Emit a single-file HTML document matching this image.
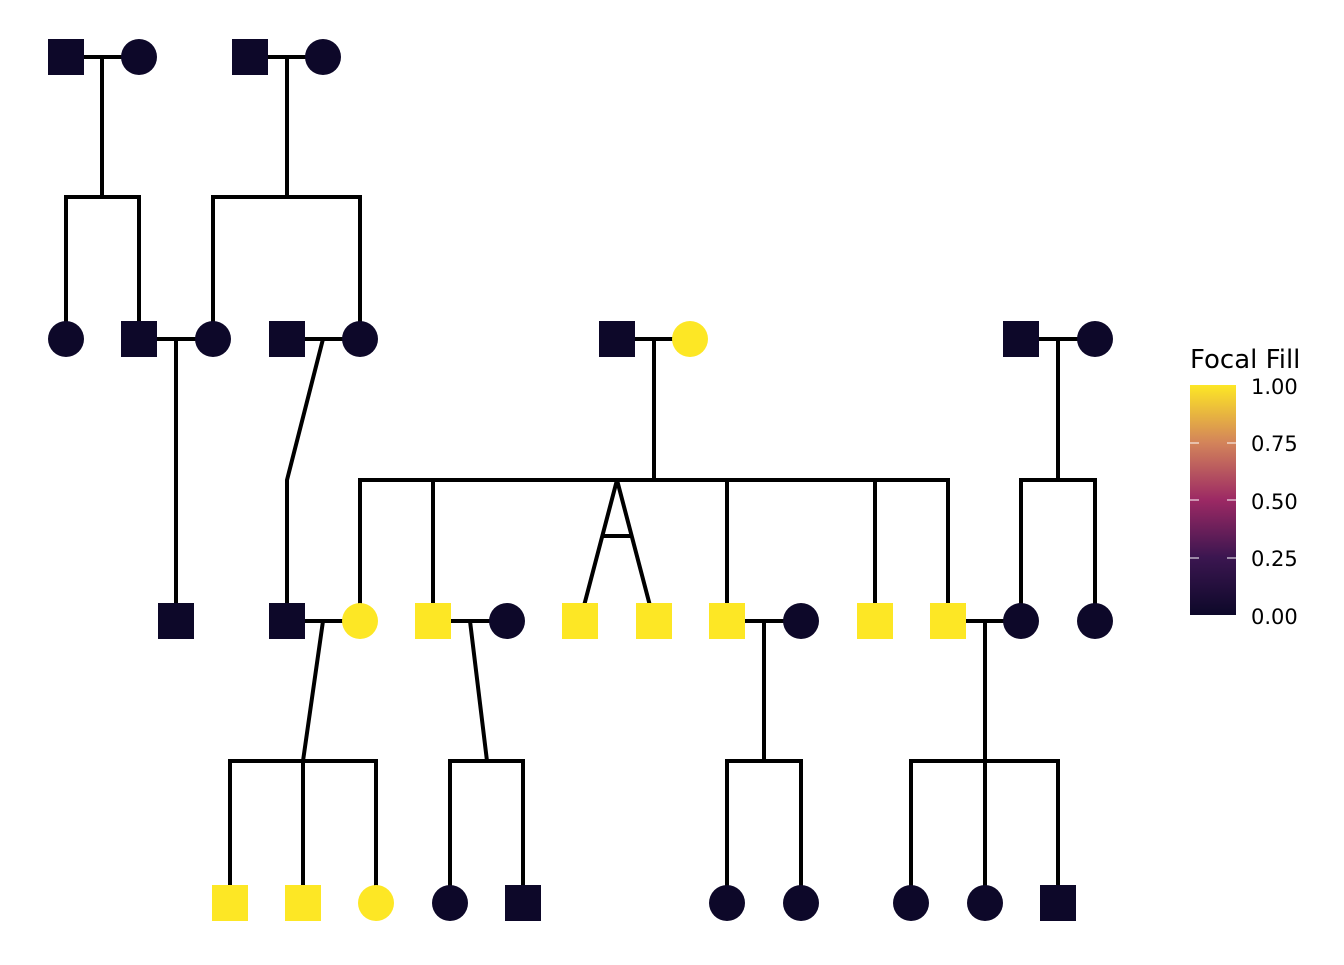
<!DOCTYPE html>
<html><head><meta charset="utf-8"><style>body{margin:0;background:#fff}</style></head><body>
<svg width="1344" height="960" xmlns="http://www.w3.org/2000/svg" font-family="DejaVu Sans, Liberation Sans, sans-serif">
<defs><linearGradient id="g" x1="0" y1="1" x2="0" y2="0">
<stop offset="0" stop-color="#0D0829"/><stop offset="0.25" stop-color="#3B1650"/><stop offset="0.5" stop-color="#9C2964"/><stop offset="0.75" stop-color="#D3845A"/><stop offset="1" stop-color="#FDE725"/></linearGradient></defs>
<g stroke="#000" stroke-width="4" fill="none">
<path d="M66 57H139M102 57V197M66 339V197H139V339"/>
<path d="M250 57H323M287 57V197M213 339V197H360V339"/>
<path d="M139 339H213M176 339V621"/>
<path d="M287 339H360M323 339L287 480V621"/>
<path d="M617 339H690M654 339V480M360 621V480H948V621M433 480V621M727 480V621M875 480V621"/>
<path d="M617 480L580 621M617 480L654 621M602 536H632"/>
<path d="M1021 339H1095M1058 339V480M1021 621V480H1095V621"/>
<path d="M287 621H360M323 621L303 761M230 903V761H376V903M303 761V903"/>
<path d="M433 621H507M470 621L487 761M450 903V761H523V903"/>
<path d="M727 621H801M764 621V761M727 903V761H801V903"/>
<path d="M948 621H1021M985 621V903M911 903V761H1058V903"/>
</g>
<g fill="#0D0829">
<rect x="48" y="39" width="36" height="36"/><circle cx="139" cy="57" r="18"/>
<rect x="232" y="39" width="36" height="36"/><circle cx="323" cy="57" r="18"/>
<circle cx="66" cy="339" r="18"/><rect x="121" y="321" width="36" height="36"/><circle cx="213" cy="339" r="18"/>
<rect x="269" y="321" width="36" height="36"/><circle cx="360" cy="339" r="18"/>
<rect x="599" y="321" width="36" height="36"/>
<rect x="1003" y="321" width="36" height="36"/><circle cx="1095" cy="339" r="18"/>
<rect x="158" y="603" width="36" height="36"/><rect x="269" y="603" width="36" height="36"/>
<circle cx="507" cy="621" r="18"/><circle cx="801" cy="621" r="18"/><circle cx="1021" cy="621" r="18"/><circle cx="1095" cy="621" r="18"/>
<circle cx="450" cy="903" r="18"/><rect x="505" y="885" width="36" height="36"/>
<circle cx="727" cy="903" r="18"/><circle cx="801" cy="903" r="18"/><circle cx="911" cy="903" r="18"/><circle cx="985" cy="903" r="18"/>
<rect x="1040" y="885" width="36" height="36"/>
</g>
<g fill="#FDE725">
<circle cx="690" cy="339" r="18"/>
<circle cx="360" cy="621" r="18"/>
<rect x="415" y="603" width="36" height="36"/><rect x="562" y="603" width="36" height="36"/><rect x="636" y="603" width="36" height="36"/>
<rect x="709" y="603" width="36" height="36"/><rect x="857" y="603" width="36" height="36"/><rect x="930" y="603" width="36" height="36"/>
<rect x="212" y="885" width="36" height="36"/><rect x="285" y="885" width="36" height="36"/><circle cx="376" cy="903" r="18"/>
</g>
<text x="1190" y="368" font-size="26">Focal Fill</text>
<rect x="1190" y="385" width="46" height="230" fill="url(#g)"/>
<g stroke="#fff" stroke-width="1.2" opacity="0.8">
<path d="M1190 443h9M1227 443h9M1190 500h9M1227 500h9M1190 558h9M1227 558h9"/></g>
<g font-size="21" fill="#000">
<text x="1251" y="394">1.00</text><text x="1251" y="451">0.75</text><text x="1251" y="509">0.50</text>
<text x="1251" y="566">0.25</text><text x="1251" y="624">0.00</text></g>
</svg>
</body></html>
